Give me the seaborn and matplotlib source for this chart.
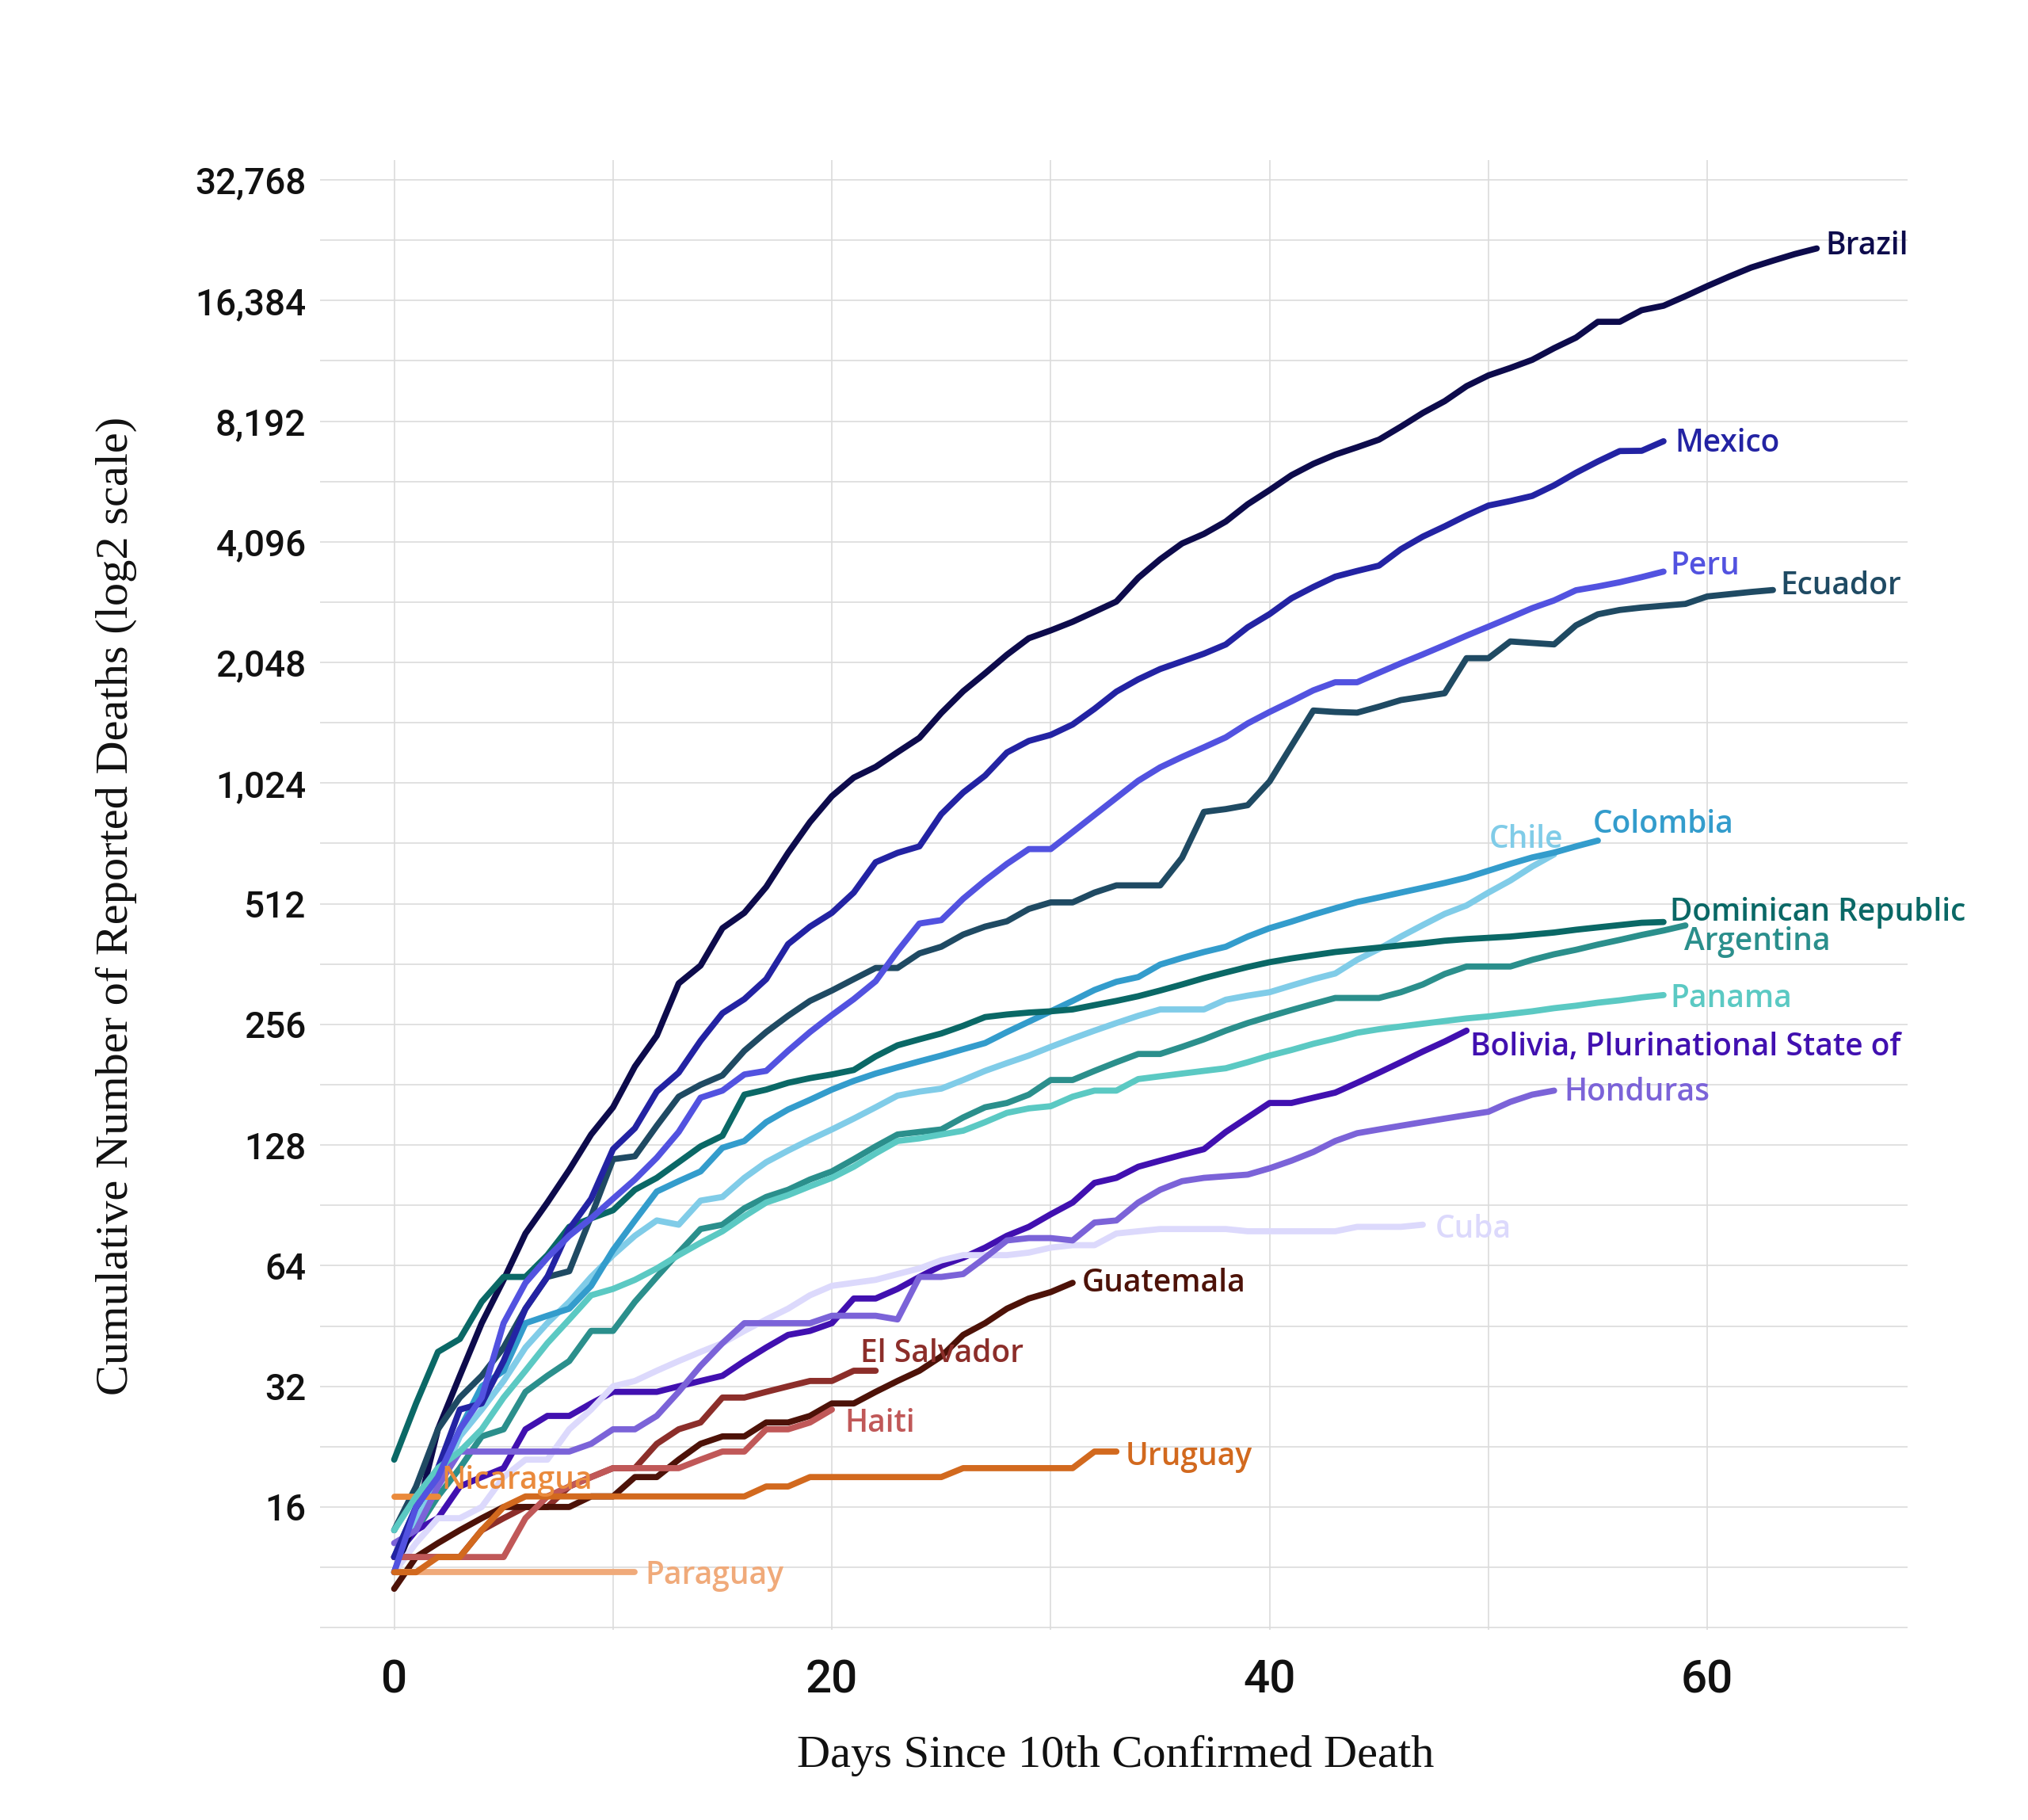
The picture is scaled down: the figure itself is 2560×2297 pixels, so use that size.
import matplotlib
matplotlib.use("Agg")
import matplotlib.pyplot as plt
import matplotlib.ticker as mticker
import seaborn as sns
import pandas as pd

# ---------------- data ----------------
argentina = [12,14,17,20,24,25,31,34,37,44,44,52,60,69,79,81,89,95,99,105,110,118,127,136,138,140,150,159,163,171,
             186,186,196,206,216,216,225,235,247,258,268,278,288,298,298,298,308,322,342,357,357,357,371,383,393,405,416,428,439,452]
bolivia = [12,14,15,18,19,20,25,27,27,29,31,31,31,32,33,34,37,40,43,44,46,53,53,56,60,64,67,71,76,80,
           86,92,103,106,113,117,121,125,138,150,163,163,168,173,183,194,206,219,232,247]
brazil = [11,15,25,34,46,59,77,92,111,136,159,201,240,324,359,445,486,564,686,819,950,1057,1124,1223,1328,1532,1736,1924,2141,
          2354,2462,2587,2741,2906,3331,3704,4057,4286,4603,5083,5513,6006,6412,6761,7051,7367,7938,8588,9190,10017,10656,11123,
          11653,12461,13240,14500,14500,15500,15900,16800,17800,18800,19800,20600,21400,22100]
chile = [12,15,18,24,28,33,40,46,52,60,68,76,83,81,93,95,106,116,124,132,140,149,159,170,174,177,186,196,205,214,225,236,247,
         258,269,279,279,279,295,302,308,320,332,343,371,395,424,453,483,507,546,585,634,680]
colombia = [12,16,19,25,32,35,46,48,50,57,70,83,98,104,110,126,131,146,157,166,176,185,193,200,207,214,222,230,245,260,276,293,
            312,327,336,361,375,388,400,424,445,462,481,499,517,531,546,561,577,595,619,644,668,687,712,736]
cuba = [11,13,15,15,16,19,21,21,25,28,32,33,35,37,39,41,44,47,50,54,57,58,59,61,63,66,68,68,68,69,71,72,72,77,78,79,79,79,79,
        78,78,78,78,78,80,80,80,81]
dominican_republic = [21,29,39,42,52,60,60,68,80,84,88,99,106,116,127,135,171,176,183,188,192,197,213,227,235,243,254,267,271,
                      274,276,279,286,293,301,311,322,334,345,356,366,374,381,388,393,398,403,408,414,418,421,424,429,434,441,
                      447,453,459,461]
ecuador = [14,18,25,30,34,40,50,60,62,85,118,120,143,169,181,191,220,245,269,293,311,332,354,354,385,400,429,449,463,497,516,516,
           546,569,569,569,667,868,882,902,1034,1268,1554,1541,1535,1589,1650,1682,1716,2099,2099,2311,2291,2272,2535,2701,2769,
           2808,2837,2867,2993,3032,3071,3105]
el_salvador = [12,12,12,12,14,15,16,16,18,19,20,20,23,25,26,30,30,31,32,33,33,35,35]
guatemala = [10,12,13,14,15,16,16,16,16,17,17,19,19,21,23,24,24,26,26,27,29,29,31,33,35,38,43,46,50,53,55,58]
haiti = [12,12,12,12,12,12,15,17,18,19,20,20,20,20,21,22,22,25,25,26,28]
honduras = [13,14,18,22,22,22,22,22,22,23,25,25,27,31,36,41,46,46,46,46,48,48,48,47,60,60,61,67,74,75,75,74,82,83,92,99,104,
            106,107,108,112,117,123,131,137,140,143,146,149,152,155,164,171,175]
mexico = [12,16,20,28,29,37,50,60,79,94,125,141,174,194,233,273,296,332,406,449,486,546,650,686,712,857,970,1069,1221,1305,1351,
          1434,1569,1732,1859,1972,2061,2154,2271,2507,2704,2961,3160,3353,3465,3573,3926,4220,4477,4767,5045,5177,5332,5666,
          6090,6500,6900,6910,7300]
nicaragua = [17,17,17]
panama = [14,17,20,22,25,30,35,41,47,54,56,59,63,68,73,78,85,92,96,101,106,113,122,131,133,136,139,146,154,158,160,169,175,175,
          187,190,193,196,199,206,214,221,229,236,244,249,253,257,261,265,268,272,276,281,285,290,294,299,303]
paraguay = [11,11,11,11,11,11,11,11,11,11,11,11]
peru = [11,16,19,25,30,46,58,67,76,84,94,105,119,138,168,175,192,196,220,245,270,296,328,390,457,466,527,585,644,701,701,773,853,
        941,1038,1121,1190,1258,1332,1443,1541,1638,1745,1828,1828,1931,2038,2145,2262,2389,2516,2652,2798,2925,3101,3169,3247,
        3344,3452]
uruguay = [11,11,12,12,14,16,17,17,17,17,17,17,17,17,17,17,17,18,18,19,19,19,19,19,19,19,20,20,20,20,20,20,22,22]

countries = ["Argentina", "Bolivia, Plurinational State of", "Brazil", "Chile", "Colombia", "Cuba",
             "Dominican Republic", "Ecuador", "El Salvador", "Guatemala", "Haiti", "Honduras", "Mexico",
             "Nicaragua", "Panama", "Paraguay", "Peru", "Uruguay"]
values = [argentina, bolivia, brazil, chile, colombia, cuba, dominican_republic, ecuador, el_salvador,
          guatemala, haiti, honduras, mexico, nicaragua, panama, paraguay, peru, uruguay]

y_ticks = [16, 32, 64, 128, 256, 512, 1024, 2048, 4096, 8192, 16384, 32768]
x_ticks = [0, 20, 40, 60]

# ---------------- styling ----------------
colors = {
    "Argentina": "#2b8f8c", "Bolivia, Plurinational State of": "#4110b0", "Brazil": "#0d0b4c",
    "Chile": "#80cce8", "Colombia": "#339ccc", "Cuba": "#dcd9fc", "Dominican Republic": "#0a6866",
    "Ecuador": "#1f4a63", "El Salvador": "#8c2e2a", "Guatemala": "#4d1208", "Haiti": "#c05858",
    "Honduras": "#7b63d8", "Mexico": "#2323a3", "Nicaragua": "#ea8a3c", "Panama": "#5bc9c3",
    "Paraguay": "#f0aa7a", "Peru": "#5252e0", "Uruguay": "#d2691e",
}
# label offsets from the last point, in points
offsets = {
    "Brazil": (4.1, 0.9), "Mexico": (5.3, -1.2), "Peru": (2.9, 2.4), "Ecuador": (3.5, 1.8),
    "Colombia": (-2.4, 7.1), "Chile": (-29.4, 6.5), "Dominican Republic": (2.9, 4.1),
    "Argentina": (-0.6, -7.4), "Panama": (2.9, -2.0), "Bolivia, Plurinational State of": (1.8, -7.6),
    "Honduras": (4.4, -0.9), "Cuba": (5.6, -2.4), "Guatemala": (4.3, -0.2), "El Salvador": (-7.1, 7.6),
    "Haiti": (5.9, -6.5), "Uruguay": (4.1, -2.4), "Nicaragua": (1.8, 7.1), "Paraguay": (4.7, -1.8),
}

rows = []
for name, vals in zip(countries, values):
    for d, v in enumerate(vals):
        rows.append({"country": name, "day": d, "deaths": v})
df = pd.DataFrame(rows)

sns.set_theme(style="white")
plt.rcParams["font.family"] = ["Roboto", "DejaVu Sans"]

fig = plt.figure(figsize=(12.8, 11.485), dpi=200)
ax = fig.add_axes([0.158, 0.1045, 0.7826, 0.8075])

sns.lineplot(data=df, x="day", y="deaths", hue="country", hue_order=countries, palette=colors,
             estimator=None, linewidth=2.8, legend=False, ax=ax,
             solid_capstyle="round", solid_joinstyle="round")

ax.set_yscale("log", base=2)
ax.set_ylim(7.9, 36700)
ax.set_xlim(-3.37, 69.15)

ax.set_yticks(y_ticks)
ax.yaxis.set_major_formatter(mticker.FuncFormatter(lambda v, _: f"{int(round(v)):,}"))
ax.set_yticks([8] + [2 ** (k + 0.5) for k in range(3, 15)], minor=True)
ax.yaxis.set_minor_formatter(mticker.NullFormatter())
ax.set_xticks(x_ticks)
ax.set_xticks([10, 30, 50], minor=True)
ax.xaxis.set_minor_formatter(mticker.NullFormatter())

ax.grid(which="both", color="#dcdcdc", linewidth=0.6)
ax.set_axisbelow(True)
ax.tick_params(which="both", length=0)
ax.tick_params(axis="y", pad=6.5, labelsize=16.5, labelcolor="#111111")
ax.tick_params(axis="x", pad=13, labelsize=21, labelcolor="#111111")
for lab in ax.get_yticklabels() + ax.get_xticklabels():
    lab.set_fontweight("medium")
for s in ax.spines.values():
    s.set_visible(False)
ax.set_xlabel("")
ax.set_ylabel("")

fig.text(0.55, 0.0353, "Days Since 10th Confirmed Death", ha="center", va="center",
         fontsize=21, family=["Liberation Serif", "DejaVu Serif"], color="#111111")
fig.text(0.0574, 0.5024, "Cumulative Number of Reported Deaths (log2 scale)", ha="center", va="center",
         rotation=90, fontsize=21, family=["Liberation Serif", "DejaVu Serif"], color="#111111")

for name, vals in zip(countries, values):
    dx, dy = offsets[name]
    ax.annotate(name, xy=(len(vals) - 1, vals[-1]), xytext=(dx, dy), textcoords="offset points",
                ha="left", va="center", fontsize=14, family=["Open Sans", "DejaVu Sans"],
                fontweight="semibold", color=colors[name])

fig.savefig("out.png", dpi=200)
